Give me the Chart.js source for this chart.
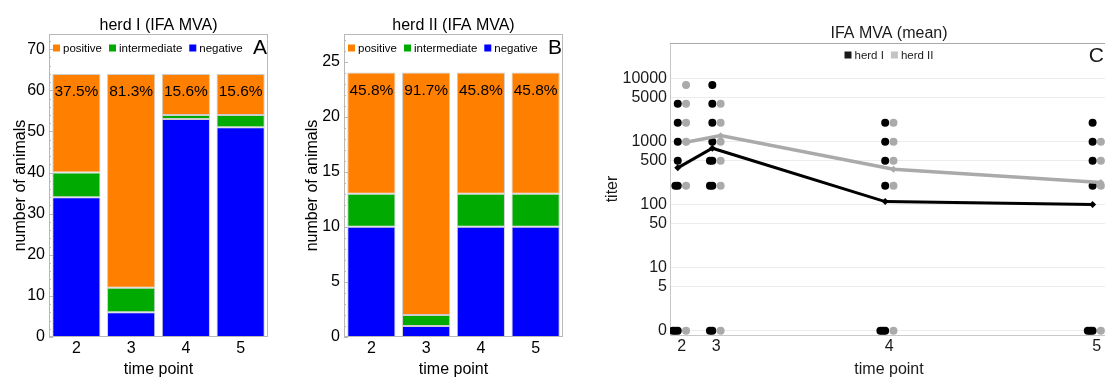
<!DOCTYPE html>
<html>
<head>
<meta charset="utf-8">
<script src="https://cdn.jsdelivr.net/npm/chart.js@4.4.0/dist/chart.umd.min.js"></script>
<style>
  html, body { margin: 0; padding: 0; background: #fff; overflow: hidden; width: 1105px; height: 378px; }
  canvas { position: absolute; top: 0; }
  #chartA { left: 0; }
  #chartB { left: 280px; }
  #chartC { left: 580px; }
</style>
</head>
<body>
<canvas id="chartA" width="280" height="378"></canvas>
<canvas id="chartB" width="300" height="378"></canvas>
<canvas id="chartC" width="540" height="378"></canvas>
<script>
// time points (x categories)
var timePoints = ['2', '3', '4', '5'];

// herd I, number of animals per IFA class
var herd1Negative = [34, 6, 53, 51];
var herd1Intermediate = [6, 6, 1, 3];
var herd1Positive = [24, 52, 10, 10];

// herd II
var herd2Negative = [10, 1, 10, 10];
var herd2Intermediate = [3, 1, 3, 3];
var herd2Positive = [11, 22, 11, 11];

// panel C: time axis (months after first sampling), titers per animal (0 = negative)
var timeMonths = [0, 1, 6, 12];
var herd1Titers = [
  [4000, 2000, 1000, 500, 200, 200, 0, 0, 0],
  [8000, 4000, 2000, 1000, 500, 500, 200, 200, 0, 0],
  [2000, 1000, 500, 200, 0, 0, 0],
  [2000, 1000, 500, 200, 0, 0, 0]
];
var herd2Titers = [
  [8000, 4000, 2000, 1000, 200, 0],
  [4000, 2000, 1000, 500, 200, 0],
  [2000, 1000, 500, 200, 0],
  [1000, 500, 200, 0]
];
var herd1Mean = [385, 790, 112, 101];
var herd2Mean = [985, 1250, 367, 225];
var titerTicks = [0, 5, 10, 50, 100, 500, 1000, 5000, 10000];

var FONT = "'Liberation Sans', Arial, sans-serif";
var ORANGE = '#ff8000', GREEN = '#00aa00', BLUE = '#0000ff';

// log axis can't show 0, so 0 is put at 1
function toAxis(v) { return v === 0 ? 1 : v; }

var decor = {
  id: 'decor',
  afterDraw: function (chart, args, o) {
    var ctx = chart.ctx, a = chart.chartArea;
    ctx.save();
    ctx.lineWidth = 1;
    ctx.strokeStyle = o.frame;
    if (o.topOnly) {
      ctx.beginPath();
      ctx.moveTo(a.left, a.top + 0.5);
      ctx.lineTo(a.right, a.top + 0.5);
      ctx.stroke();
    } else {
      ctx.strokeRect(a.left + 0.5, a.top + 0.5, a.width - 1, a.height - 1);
    }
    // inward ticks on the left frame
    if (o.minorStep) {
      var ys = chart.scales.y;
      ctx.beginPath();
      for (var v = 0; v <= ys.max; v += o.minorStep) {
        var p = Math.round(ys.getPixelForValue(v)) + 0.5;
        var len = (Math.round(v / o.minorStep) % o.majorEvery === 0) ? 4 : 2;
        ctx.moveTo(a.left, p);
        ctx.lineTo(a.left + len, p);
      }
      ctx.stroke();
    }
    ctx.fillStyle = o.textColor;
    ctx.textBaseline = 'middle';
    // title
    ctx.font = '16px ' + FONT;
    ctx.textAlign = 'center';
    ctx.fillText(o.title, (a.left + a.right) / 2, o.titleY);
    // panel letter
    ctx.font = '21px ' + FONT;
    ctx.textAlign = 'right';
    ctx.fillText(o.letter, a.right - o.letterInset, a.top + o.letterDy);
    // legend
    ctx.font = '11.5px ' + FONT;
    ctx.textAlign = 'left';
    var box = 7, gapText = 3, gapItem = 7;
    var widths = o.legend.map(function (it) { return box + gapText + ctx.measureText(it.label).width; });
    var total = widths.reduce(function (s, w) { return s + w; }, 0) + gapItem * (widths.length - 1);
    var x = o.legendCenter ? (a.left + a.right - total) / 2 : a.left + 4;
    var y = a.top + o.legendDy;
    o.legend.forEach(function (it, i) {
      ctx.fillStyle = it.color;
      ctx.fillRect(x, y - box / 2, box, box);
      ctx.fillStyle = o.textColor;
      ctx.fillText(it.label, x + box + gapText, y + 0.5);
      x += widths[i] + gapItem;
    });
    // percent positive inside the bars
    if (o.percent) {
      var ds = chart.data.datasets;
      var xs = chart.scales.x, yScale = chart.scales.y;
      ctx.font = '15.5px ' + FONT;
      ctx.textAlign = 'center';
      ctx.fillStyle = '#000';
      for (var i = 0; i < timePoints.length; i++) {
        var neg = ds[0].data[i], mid = ds[1].data[i], pos = ds[2].data[i];
        var tot = neg + mid + pos;
        var pct = (pos / tot * 100).toFixed(1) + '%';
        ctx.fillText(pct, xs.getPixelForValue(i), yScale.getPixelForValue(tot) + 18);
      }
    }
    ctx.restore();
  }
};

function barChart(id, title, letter, neg, mid, pos, yMax, yStep, minor, axisWidth, padRight, yTitlePad) {
  return new Chart(document.getElementById(id), {
    type: 'bar',
    data: {
      labels: timePoints,
      datasets: [
        { label: 'negative', data: neg, backgroundColor: BLUE },
        { label: 'intermediate', data: mid, backgroundColor: GREEN },
        { label: 'positive', data: pos, backgroundColor: ORANGE }
      ]
    },
    options: {
      responsive: false,
      animation: false,
      layout: { padding: { top: 34, right: padRight, left: 0, bottom: 0 } },
      datasets: {
        bar: {
          categoryPercentage: 1, barPercentage: 0.88,
          borderWidth: 1, borderColor: 'rgba(90,90,90,0.3)', borderSkipped: false
        }
      },
      plugins: {
        legend: { display: false },
        tooltip: { enabled: false },
        decor: {
          frame: '#b8b8b8', title: title, titleY: 25.5, letter: letter, letterInset: 1, letterDy: 14,
          textColor: '#000', legendDy: 14, legendCenter: false, percent: true,
          minorStep: minor, majorEvery: yStep / minor,
          legend: [
            { label: 'positive', color: ORANGE },
            { label: 'intermediate', color: GREEN },
            { label: 'negative', color: BLUE }
          ]
        }
      },
      scales: {
        x: {
          stacked: true,
          grid: { display: false, drawTicks: false },
          border: { display: false },
          ticks: { color: '#000', font: { family: FONT, size: 16 }, padding: 2 },
          title: { display: true, text: 'time point', color: '#000', font: { family: FONT, size: 16, lineHeight: 1 }, padding: { top: 0, bottom: 0 } },
          afterFit: function (s) { s.height = 41; }
        },
        y: {
          stacked: true, min: 0, max: yMax,
          grid: { display: false, drawTicks: false },
          border: { display: false },
          ticks: { stepSize: yStep, includeBounds: false, color: '#000', font: { family: FONT, size: 16 }, padding: 4 },
          title: { display: true, text: 'number of animals', color: '#000', font: { family: FONT, size: 16, lineHeight: 1 }, padding: { top: yTitlePad, bottom: 0 } },
          afterFit: function (s) { s.width = axisWidth; }
        }
      }
    },
    plugins: [decor]
  });
}

barChart('chartA', 'herd I (IFA MVA)', 'A', herd1Negative, herd1Intermediate, herd1Positive, 73.7, 10, 2, 49, 12, 13);
barChart('chartB', 'herd II (IFA MVA)', 'B', herd2Negative, herd2Intermediate, herd2Positive, 27.5, 5, 1, 64, 17, 25);

// panel C
var PX_PER_MONTH = 34.6;
var SHIFT_I = -4 / PX_PER_MONTH, SHIFT_II = 4.3 / PX_PER_MONTH, STACK = 2.4 / PX_PER_MONTH;

function dotPoints(titers, shift) {
  var pts = [];
  titers.forEach(function (list, i) {
    var seen = {};
    list.forEach(function (v) {
      var k = seen[v] || 0;
      seen[v] = k + 1;
      pts.push({ x: timeMonths[i] + shift - k * STACK, y: toAxis(v) });
    });
  });
  return pts;
}
function meanPoints(means, shift) {
  return means.map(function (m, i) { return { x: timeMonths[i] + shift, y: m }; });
}

new Chart(document.getElementById('chartC'), {
  type: 'scatter',
  data: {
    datasets: [
      { label: 'herd I', data: meanPoints(herd1Mean, SHIFT_I), showLine: true, borderColor: '#000', backgroundColor: '#000',
        borderWidth: 3, pointStyle: 'rectRot', pointRadius: 3.5, pointBorderWidth: 0, order: 0 },
      { label: 'herd II', data: meanPoints(herd2Mean, SHIFT_II), showLine: true, borderColor: '#aaaaaa', backgroundColor: '#aaaaaa',
        borderWidth: 3.5, pointStyle: 'rectRot', pointRadius: 3.5, pointBorderWidth: 0, order: 1 },
      { label: 'herd II', data: dotPoints(herd2Titers, SHIFT_II), backgroundColor: '#aaaaaa', pointRadius: 4, pointBorderWidth: 0, order: 2 },
      { label: 'herd I', data: dotPoints(herd1Titers, SHIFT_I), backgroundColor: '#000', pointRadius: 4, pointBorderWidth: 0, order: 3 }
    ]
  },
  options: {
    responsive: false,
    animation: false,
    layout: { padding: { top: 43, right: 12, left: 0, bottom: 0 } },
    plugins: {
      legend: { display: false },
      tooltip: { enabled: false },
      decor: {
        frame: '#a8a8a8', topOnly: true, title: 'IFA MVA (mean)', titleY: 33.5, letter: 'C', letterInset: 4, letterDy: 13,
        textColor: '#1a1a1a', legendDy: 12, legendCenter: true, percent: false,
        legend: [
          { label: 'herd I', color: '#1a1a1a' },
          { label: 'herd II', color: '#c4c4c4' }
        ]
      }
    },
    scales: {
      x: {
        type: 'linear', min: -0.34, max: 12.33,
        grid: { display: false, drawTicks: false },
        border: { color: '#c8c8c8' },
        afterBuildTicks: function (s) { s.ticks = timeMonths.map(function (v) { return { value: v }; }); },
        ticks: {
          color: '#1a1a1a', font: { family: FONT, size: 16 }, padding: 2,
          callback: function (v) { return timePoints[timeMonths.indexOf(v)]; }
        },
        title: { display: true, text: 'time point', color: '#1a1a1a', font: { family: FONT, size: 16, lineHeight: 1 }, padding: { top: 0, bottom: 0 } },
        afterFit: function (s) { s.height = 43; }
      },
      y: {
        type: 'logarithmic', min: 0.853, max: 37000,
        grid: { color: '#ececec', drawTicks: false },
        border: { color: '#c8c8c8' },
        afterBuildTicks: function (s) { s.ticks = titerTicks.map(function (v) { return { value: toAxis(v) }; }); },
        ticks: {
          color: '#1a1a1a', font: { family: FONT, size: 16 }, padding: 3,
          callback: function (v) { var i = titerTicks.map(toAxis).indexOf(v); return String(titerTicks[i]); }
        },
        title: { display: true, text: 'titer', color: '#1a1a1a', font: { family: FONT, size: 16, lineHeight: 1 }, padding: { top: 25, bottom: 0 } },
        afterFit: function (s) { s.width = 90; }
      }
    }
  },
  plugins: [decor]
});
</script>
</body>
</html>
